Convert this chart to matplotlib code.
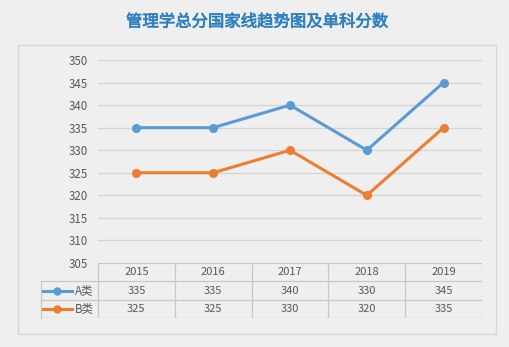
import matplotlib.pyplot as plt
import matplotlib.patheffects as pe
from matplotlib.patches import Rectangle
from matplotlib.lines import Line2D

plt.rcParams['font.family'] = ['Noto Sans CJK SC', 'DejaVu Sans']

# data
years = ['2015', '2016', '2017', '2018', '2019']
a_scores = [335, 335, 340, 330, 345]
b_scores = [325, 325, 330, 320, 335]
series_names = ['A类', 'B类']
y_ticks = [305, 310, 315, 320, 325, 330, 335, 340, 345, 350]

blue = '#5b9bd5'
orange = '#ed7d31'
grid_c = '#d4d4d4'
text_c = '#595959'
bg = '#efefef'

W, H = 510, 347
fig = plt.figure(figsize=(W / 100, H / 100), dpi=100, facecolor=bg)

def fx(px):
    return px / W

def fy(py):
    return 1 - py / H

# chart frame
fig.patches.append(Rectangle((fx(18), fy(334)), fx(496) - fx(18), fy(45) - fy(334),
                             transform=fig.transFigure, facecolor=bg,
                             edgecolor='#d6d6d6', linewidth=1, zorder=-10))

title_c = '#2e7fbf'
fig.text(fx(257), fy(22), '管理学总分国家线趋势图及单科分数', ha='center', va='center',
         fontsize=11.8, color=title_c,
         path_effects=[pe.withStroke(linewidth=0.5, foreground=title_c)])

# main plot
ax = fig.add_axes([fx(98), fy(263), fx(482) - fx(98), fy(60) - fy(263)])
ax.patch.set_visible(False)
x = range(len(years))
ax.plot(x, a_scores, color=blue, lw=2.2, marker='o', ms=5.5, zorder=3)
ax.plot(x, b_scores, color=orange, lw=2.2, marker='o', ms=5.5, zorder=3)
ax.set_xlim(-0.5, len(years) - 0.5)
ax.set_ylim(y_ticks[0], y_ticks[-1])
ax.set_yticks(y_ticks)
ax.set_xticks([])
ax.grid(axis='y', color=grid_c, lw=0.9)
ax.tick_params(axis='y', length=0, pad=7, labelsize=8.3, labelcolor=text_c)
for s in ax.spines.values():
    s.set_visible(False)

# data table under the plot
left = -0.5 - 57 / 76.8
tab = fig.add_axes([fx(41), fy(318), fx(482) - fx(41), fy(263) - fy(318)])
tab.patch.set_visible(False)
tab.set_xlim(left, len(years) - 0.5)
tab.set_ylim(0, 3)
tab.axis('off')
lc = '#c8c8c8'
tab.plot([-0.5, len(years) - 0.5], [3, 3], color=lc, lw=0.9)
for yv in [0, 1, 2]:
    tab.plot([left, len(years) - 0.5], [yv, yv], color=lc, lw=0.9)
for xv in [i - 0.5 for i in range(len(years) + 1)]:
    tab.plot([xv, xv], [0, 3], color=lc, lw=0.9)
tab.plot([left, left], [0, 2], color=lc, lw=0.9, clip_on=False)

for i, yr in enumerate(years):
    tab.text(i, 2.5, yr, ha='center', va='center', fontsize=8, color=text_c)
    tab.text(i, 1.5, str(a_scores[i]), ha='center', va='center', fontsize=8, color=text_c)
    tab.text(i, 0.5, str(b_scores[i]), ha='center', va='center', fontsize=8, color=text_c)

for row, name, c in [(1.5, series_names[0], blue), (0.5, series_names[1], orange)]:
    tab.add_line(Line2D([-1.21, -0.84], [row, row], color=c, lw=2.2, clip_on=False))
    tab.plot([-1.03], [row], marker='o', color=c, ms=5)
    tab.text(-0.8, row, name, ha='left', va='center', fontsize=8.3, color=text_c)

fig.savefig('out.png', dpi=100, facecolor=bg)
